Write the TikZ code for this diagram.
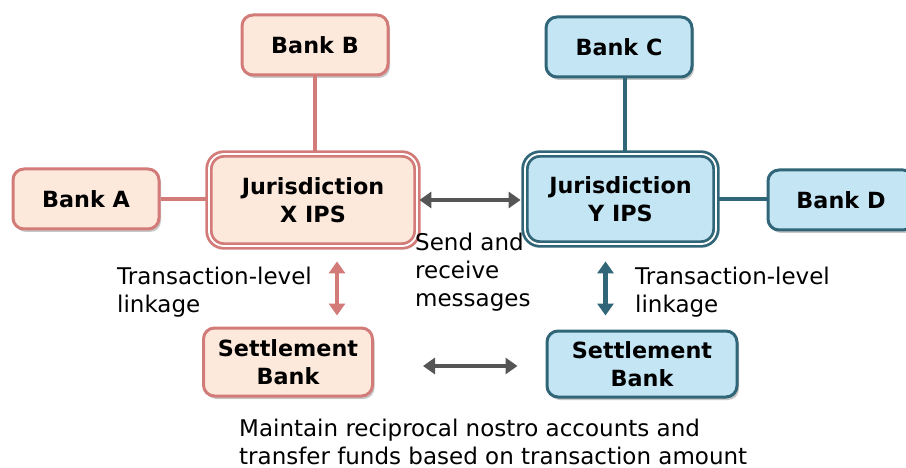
\documentclass[tikz,border=0pt]{standalone}
\usepackage{fontspec}
\setmainfont{DejaVu Sans}
\usetikzlibrary{shadows,arrows.meta}
\definecolor{pinkfill}{HTML}{FDE9DC}
\definecolor{pinkline}{HTML}{D27B78}
\definecolor{bluefill}{HTML}{C4E5F4}
\definecolor{blueline}{HTML}{306677}
\definecolor{arrgray}{HTML}{555555}
\tikzset{
  shd/.style={drop shadow={shadow xshift=2pt,shadow yshift=-3pt,opacity=0.22,fill=black}},
  pinkbox/.style={draw=pinkline,fill=pinkfill,line width=3pt,rounded corners=11pt,shd,
    font=\bfseries\fontsize{22.3}{28}\selectfont,align=center,inner sep=0pt},
  bluebox/.style={draw=blueline,fill=bluefill,line width=3pt,rounded corners=11pt,shd,
    font=\bfseries\fontsize{22.3}{28}\selectfont,align=center,inner sep=0pt},
  pinkips/.style={pinkbox,double=white,double distance=1.8pt,line width=2.8pt,rounded corners=15pt},
  blueips/.style={bluebox,double=white,double distance=1.8pt,line width=2.8pt,rounded corners=15pt},
  plink/.style={draw=pinkline,line width=4pt},
  blink/.style={draw=blueline,line width=4pt},
  lbl/.style={font=\fontsize{23}{28}\selectfont,align=left,inner sep=0pt,anchor=west},
  parrow/.style={draw=pinkline,line width=4.5pt,{Triangle[width=16pt,length=12pt]}-{Triangle[width=16pt,length=12pt]}},
  barrow/.style={draw=blueline,line width=4.5pt,{Triangle[width=16pt,length=12pt]}-{Triangle[width=16pt,length=12pt]}},
  garrow/.style={draw=arrgray,line width=4.5pt,{Triangle[width=16pt,length=12pt]}-{Triangle[width=16pt,length=12pt]}}
}
\begin{document}
\begin{tikzpicture}[x=1pt,y=-1pt]
\useasboundingbox (0,0) rectangle (906,468);
\begin{scope}
\clip (0,0) rectangle (906,468);
\node[pinkbox,minimum width=146pt,minimum height=60pt] (bankb) at (315,45) {Bank B};
\node[bluebox,minimum width=146pt,minimum height=60pt] (bankc) at (619,47) {Bank C};
\node[pinkbox,minimum width=146pt,minimum height=60pt] (banka) at (86,199) {Bank A};
\node[bluebox,minimum width=146pt,minimum height=60pt] (bankd) at (841,200) {Bank D};
\node[pinkips,minimum width=208pt,minimum height=92pt] (xips) at (313,200) {Jurisdiction\\X IPS};
\node[blueips,minimum width=191pt,minimum height=90pt] (yips) at (620.5,199) {Jurisdiction\\Y IPS};
\node[pinkbox,minimum width=169pt,minimum height=68pt] (sbl) at (288,362) {Settlement\\Bank};
\node[bluebox,minimum width=190pt,minimum height=66pt] (sbr) at (642,364) {Settlement\\Bank};
\end{scope}
% plain connectors
\draw[plink] (bankb.south) -- (bankb.south |- xips.north);
\draw[plink] (banka.east) -- (banka.east -| xips.west);
\draw[blink] ([xshift=6pt]bankc.south) -- ([xshift=6pt]bankc.south |- yips.north);
\draw[blink] (yips.east) -- (yips.east -| bankd.west);
% arrows
\draw[garrow,shorten <=1pt,shorten >=3pt] (xips.east |- 0,200) -- (yips.west |- 0,200);
\draw[garrow,shorten <=49pt,shorten >=28pt] (sbl.east |- 0,366) -- (sbr.west |- 0,366);
\draw[parrow,shorten <=14pt,shorten >=11pt] ([xshift=24pt]xips.south) -- ([xshift=24pt]xips.south |- sbl.north);
\draw[barrow,shorten <=16pt,shorten >=14pt] ([xshift=-15pt]yips.south) -- ([xshift=-15pt]yips.south |- sbr.north);
% labels
\node[lbl] (tl1) at (117,292) {Transaction-level\\linkage};
\node[lbl] (tl2) at (635,292) {Transaction-level\\linkage};
\node[lbl] (srm) at (415,272.5) {Send and\\receive\\messages};
\node[lbl] (mra) at (239,441.5) {Maintain reciprocal nostro accounts and\\transfer funds based on transaction amount};
\end{tikzpicture}
\end{document}
